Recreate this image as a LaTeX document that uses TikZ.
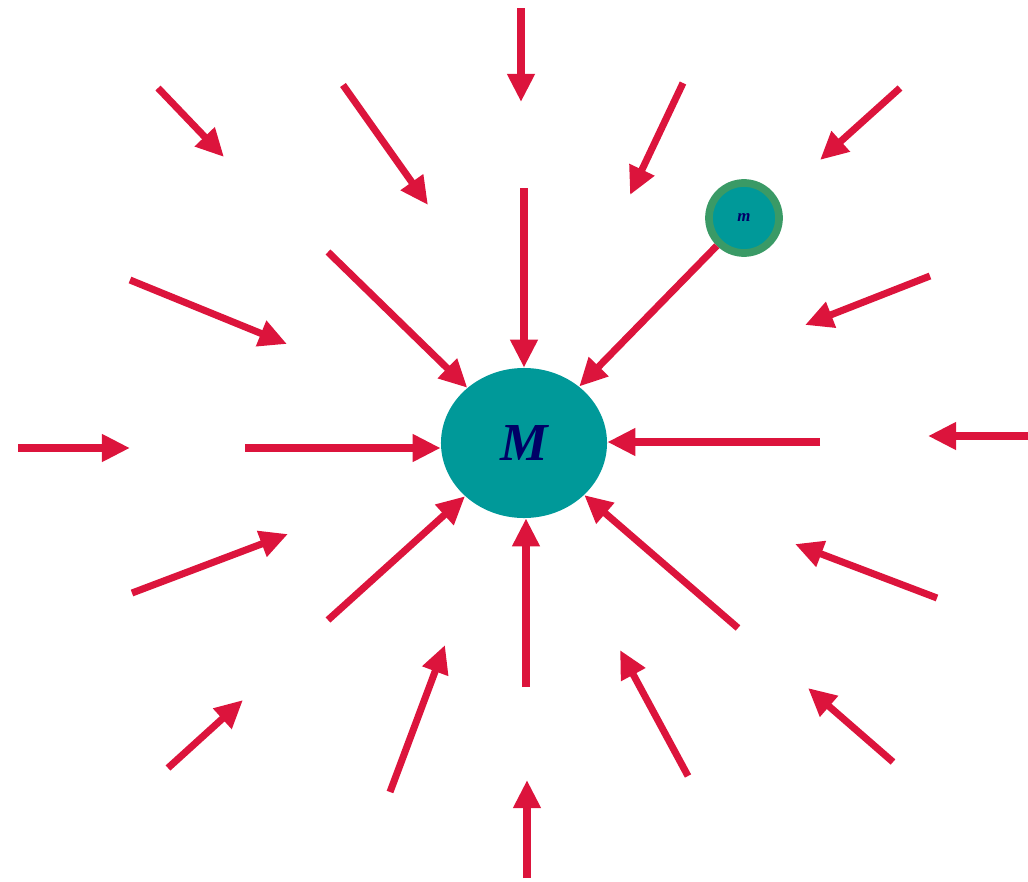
\documentclass[tikz,border=0pt]{standalone}
\usepackage{fontspec}
\setmainfont{Liberation Serif}
\usetikzlibrary{arrows.meta, shapes.geometric}
\definecolor{fieldRed}{HTML}{DC143C}
\definecolor{massTeal}{HTML}{009999}
\definecolor{ringGreen}{HTML}{3A9A66}
\definecolor{labelNavy}{HTML}{000066}
\begin{document}
\begin{tikzpicture}[x=0.025cm, y=-0.025cm,
    field/.style={draw=fieldRed, line width=5pt,
      -{Triangle[length=0.7cm, width=0.65cm]}},
    bigmass/.style={ellipse, fill=massTeal, inner sep=0pt,
      minimum width=4.15cm, minimum height=3.75cm, text=labelNavy,
      font=\fontsize{38}{40}\selectfont\bfseries\itshape},
    smallmass/.style={circle, fill=massTeal, draw=ringGreen, line width=5.5pt,
      minimum size=1.75cm, inner sep=0pt, text=labelNavy,
      font=\fontsize{12}{14}\selectfont\bfseries\itshape}]
  \useasboundingbox (0,0) rectangle (1028,882);

  \node[bigmass] (M) at (524,443) {M};
  \node[smallmass] (m) at (744,218) {m};

  % arrows that end on the big mass
  \coordinate (top) at (524,188);
  \coordinate (ul) at (328,252);
  \coordinate (lft) at (245,448);
  \coordinate (rgt) at (820,442);
  \coordinate (dl) at (328,620);
  \coordinate (bot) at (526,687);
  \coordinate (dr) at (738,628);
  \draw[field] (top) -- (top |- M.north);
  \draw[field] (bot) -- (bot |- M.south);
  \draw[field] (lft) -- (lft -| M.west);
  \draw[field] (rgt) -- (rgt -| M.east);
  \foreach \s in {ul, dl, dr}
    \draw[field] (\s) -- (M);
  \draw[field] (m) -- (M);

  % outer ring of the field
  \foreach \xa/\ya/\xb/\yb [count=\i] in {
      521/8/521/102, 158/88/224/157, 343/85/428/205,
      683/83/630/195, 900/88/820/160, 130/280/287/344,
      930/276/805/325, 18/448/130/448, 1028/436/928/436,
      132/593/288/534, 937/598/795/544, 168/768/243/700,
      390/792/445/645, 688/776/620/650, 893/762/808/688,
      527/878/527/780} {
    \coordinate (s\i) at (\xa,\ya);
    \coordinate (e\i) at (\xb,\yb);
    \draw[field] (s\i) -- (e\i);
  }
\end{tikzpicture}
\end{document}
